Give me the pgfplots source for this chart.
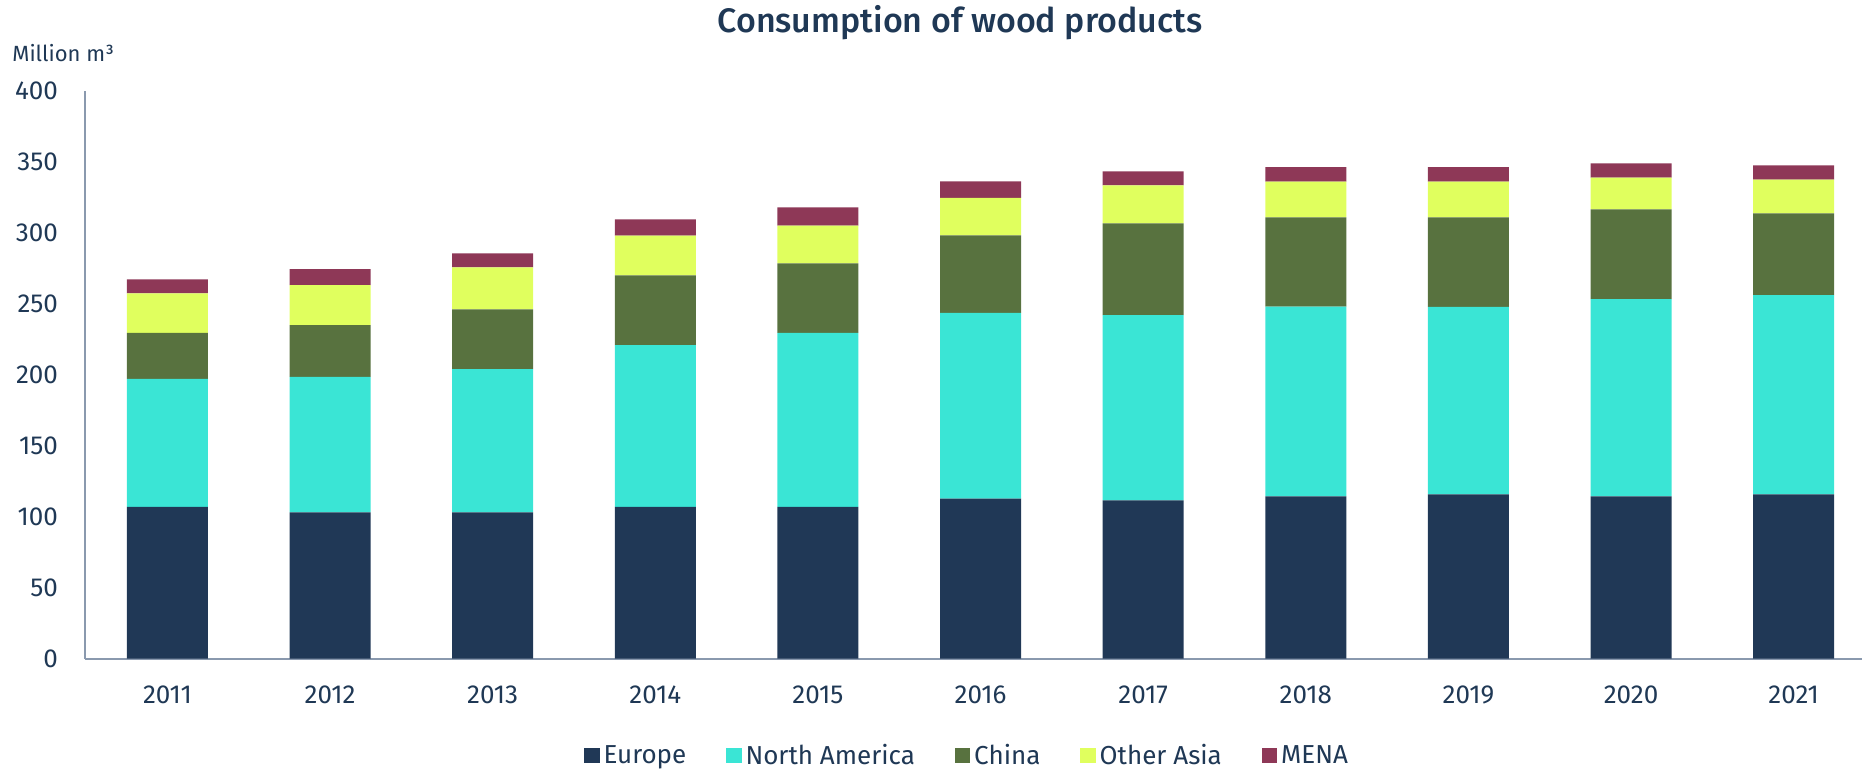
\documentclass[border=0pt]{standalone}
\usepackage{pgfplots}
\usepackage{pgfplotstable}
\pgfplotsset{compat=1.18}
\usepackage{fontspec}
\setmainfont{Fira Sans}
\newfontfamily\titlefont{Fira Sans Medium}

\definecolor{navy}{HTML}{1F3855}
\definecolor{europe}{HTML}{203856}
\definecolor{namerica}{HTML}{3AE5D5}
\definecolor{china}{HTML}{58723F}
\definecolor{otherasia}{HTML}{E0FF5E}
\definecolor{mena}{HTML}{8E3857}
\definecolor{axisgray}{HTML}{8A99AE}

% million m3
\pgfplotstableread{
x  eu     na     cn    oa    mena
0  107.0  90.0   32.4  27.9  9.9
1  103.0  95.4   36.6  28.0  11.4
2  103.0  101.0  42.0  29.6  9.9
3  107.0  113.9  49.1  27.9  11.5
4  107.0  122.4  49.0  26.5  13.0
5  112.7  130.8  54.7  26.4  11.6
6  111.5  130.5  64.6  26.7  9.9
7  114.3  133.6  62.9  25.2  10.1
8  115.7  132.1  63.0  25.2  10.1
9  114.3  139.0  63.2  22.3  10.1
10 115.7  140.4  57.5  23.7  10.2
}\wood

\begin{document}
\begin{tikzpicture}
\path[use as bounding box] (0,0) rectangle (931pt,385.5pt);
\begin{axis}[
  at={(42.5pt,56.15pt)}, anchor=south west,
  scale only axis, width=888.5pt, height=284pt,
  ybar stacked, bar width=40.5pt,
  xmin=-0.507, xmax=10.42, ymin=0, ymax=400,
  xtick={0,...,10},
  xticklabels={2011,2012,2013,2014,2015,2016,2017,2018,2019,2020,2021},
  ytick={0,50,...,400},
  /pgf/number format/assume math mode=true,
  axis x line*=bottom, axis y line*=left,
  axis line style={draw=axisgray, line width=0.8pt},
  major tick length=0pt,
  tick label style={font=\fontsize{13}{15}\selectfont, text=navy},
  yticklabel style={xshift=-10pt},
  xticklabel style={yshift=-10pt},
  legend style={at={(0.497,-0.171)}, anchor=center, draw=none,
    legend columns=-1, font=\fontsize{13}{15}\selectfont, text=navy,
    /tikz/every even column/.append style={column sep=18pt}},
  legend image code/.code={\fill[#1] (0pt,-3.8pt) rectangle (7.6pt,3.8pt);},
]
\addplot[fill=europe, draw=none] table[x=x, y=eu] {\wood};
\addplot[fill=namerica, draw=none] table[x=x, y=na] {\wood};
\addplot[fill=china, draw=none] table[x=x, y=cn] {\wood};
\addplot[fill=otherasia, draw=none] table[x=x, y=oa] {\wood};
\addplot[fill=mena, draw=none] table[x=x, y=mena] {\wood};
\legend{Europe, North America, China, Other Asia, MENA}
\end{axis}
\node[font=\titlefont\fontsize{17}{20}\selectfont, text=navy] at (480pt,374pt) {Consumption of wood products};
\node[anchor=west, font=\fontsize{11}{13}\selectfont, text=navy, inner sep=0pt] at (6pt,359pt) {Million m³};
\end{tikzpicture}
\end{document}
